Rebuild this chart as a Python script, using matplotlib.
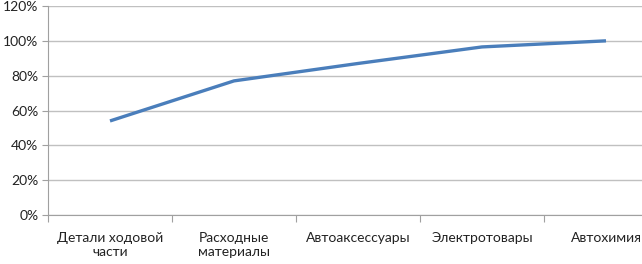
import matplotlib
matplotlib.use("Agg")
import matplotlib.pyplot as plt
from matplotlib.ticker import MultipleLocator, FuncFormatter

categories = ["Детали ходовой\nчасти", "Расходные\nматериалы", "Автоаксессуары",
              "Электротовары", "Автохимия"]
share = [54, 77, 87, 96.5, 100]

plt.rcParams["font.family"] = ["Lato", "DejaVu Sans"]

fig = plt.figure(figsize=(6.42, 2.64), dpi=100)
ax = fig.add_axes([48 / 642, 49 / 264, 620 / 642, 209 / 264])

x = list(range(len(categories)))
ax.plot(x, share, color="#4a7ebb", linewidth=2.4, solid_capstyle="butt")

ax.set_xlim(-0.5, len(categories) - 0.5)
ax.set_ylim(0, 120)
ax.yaxis.set_major_locator(MultipleLocator(20))
ax.yaxis.set_major_formatter(FuncFormatter(lambda v, _: f"{v:.0f}%"))
ax.grid(axis="y", color="#c0c0c0", linewidth=1)
ax.set_axisbelow(True)

# category boundaries carry the tick marks, labels sit between them
ax.set_xticks([i - 0.5 for i in range(len(categories) + 1)])
ax.set_xticklabels([])
ax.set_xticks(x, minor=True)
ax.set_xticklabels(categories, minor=True, fontsize=10, color="#222222")
ax.tick_params(axis="x", which="minor", length=0, pad=12)
ax.tick_params(axis="x", which="major", length=5, color="#a0a0a0")
ax.tick_params(axis="y", length=4, color="#a0a0a0", labelsize=10,
               labelcolor="#222222", pad=3)

for side in ("top", "right"):
    ax.spines[side].set_visible(False)
for side in ("left", "bottom"):
    ax.spines[side].set_color("#a0a0a0")

fig.savefig("out.png", dpi=100)
